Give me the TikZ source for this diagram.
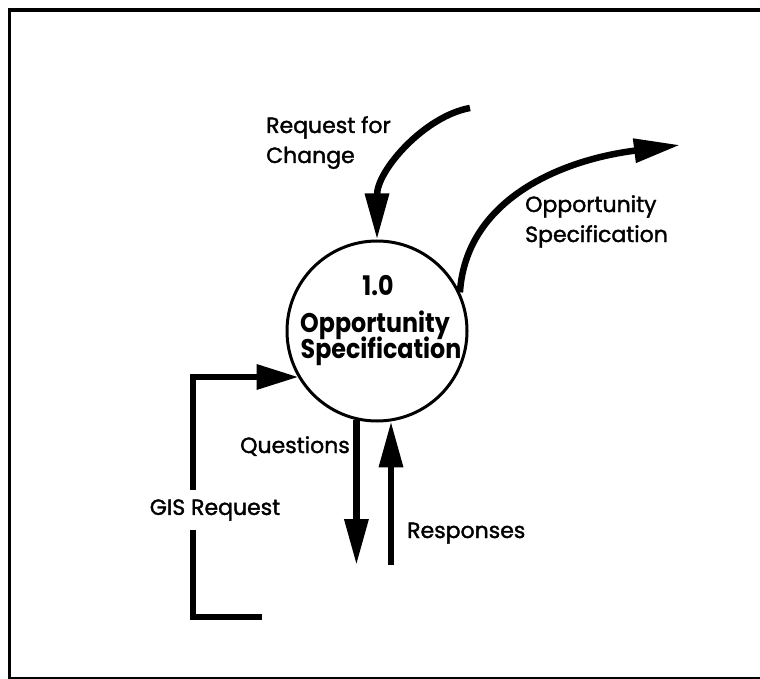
\documentclass[tikz,border=0pt]{standalone}
\usepackage{fontspec}
\setmainfont{Poppins}
\newfontfamily\flowfont{Poppins}[FakeBold=1.6]
\newfontfamily\procfont{Poppins}[FakeStretch=0.88]
\usetikzlibrary{arrows.meta}
\begin{document}
\begin{tikzpicture}[x=1pt,y=-1pt,
  flow/.style={line width=6.5pt, line join=miter},
  bighead/.style={-{Triangle[length=46pt,width=23pt]}},
  lbl/.style={font=\flowfont\fontsize{22}{30}\selectfont, inner sep=0pt, align=left},
  proclbl/.style={font=\procfont\fontsize{27}{30}\selectfont\bfseries, inner sep=0pt},
  process/.style={circle, draw, line width=3pt, minimum size=180pt, inner sep=0pt}]
\useasboundingbox (0,0) rectangle (760,679);

% outer frame (open on the right)
\draw[line width=4pt] (760,10) -- (9.5,10);
\draw[line width=2.5pt] (9.5,8) -- (9.5,679);
\draw[line width=2pt] (9.5,678) -- (760,678);

% the process bubble
\node[process] (proc) at (377,331) {};
\node[proclbl, anchor=base] (pnum) at (378,295) {1.0};
\node[proclbl, anchor=base] (pname1) at (375,332) {Opportunity};
\node[proclbl, anchor=base] (pname2) at (381,358) {Specification};

% free ends of the flows
\coordinate (rfcStart) at (470,108);
\coordinate (osEnd) at (680,145);
\coordinate (qEnd) at (357,565);
\coordinate (rStart) at (391,565);
\coordinate (gisEnd) at (262,617);
\coordinate (gisBot) at (193,617);
\coordinate (gisTop) at (193,377);

% Request for Change (incoming)
\draw[flow, bighead] (rfcStart) .. controls (425,116) and (377,170) .. (proc.north);
% Opportunity Specification (outgoing)
\draw[flow, bighead] (proc.25) .. controls (466,200) and (560,160) .. (osEnd);
% Questions (outgoing) and Responses (incoming)
\draw[flow, bighead] (proc.-103) -- (proc.-103 |- qEnd);
\draw[flow, bighead] (rStart) -- (rStart |- proc.-81);
% GIS Request loop
\draw[flow, -{Triangle[length=42pt,width=24pt]}] (gisEnd) -- (gisBot) -- (gisTop) -- (gisTop -| proc.211);

% flow labels
\node[lbl, anchor=base west] (rfcLbl) at (266,163) {Request for\\Change};
\node[lbl, anchor=base west] (osLbl) at (525,242) {Opportunity\\Specification};
\node[lbl, anchor=base east] (qLbl) at (350,453) {Questions};
\node[lbl, anchor=base west] (rLbl) at (407,538) {Responses};
\node[lbl, fill=white, inner xsep=0pt, inner ysep=0pt, minimum height=40pt] (gisLbl) at (215,510) {GIS Request};
\end{tikzpicture}
\end{document}
